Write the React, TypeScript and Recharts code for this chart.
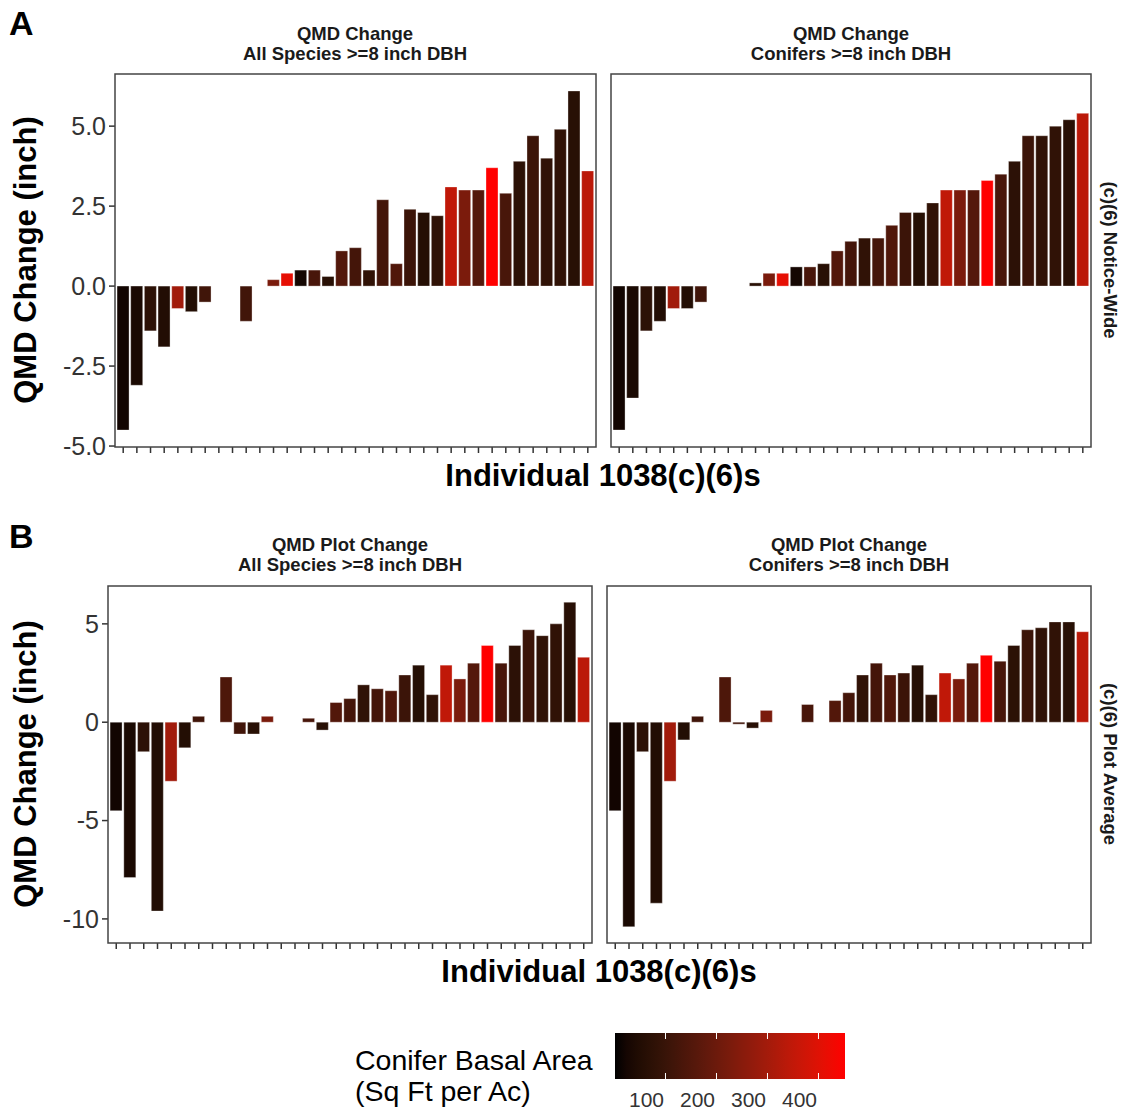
import React from 'react';
import { BarChart, Bar, Cell, XAxis, YAxis } from 'recharts';

// 35 individual 1038(c)(6)s, same order in every panel
const sites = Array.from({ length: 35 }, (_, i) => `S${i + 1}`);

// conifer basal area (sq ft per ac) per site
const basalArea = [
  20, 33, 73, 50, 295, 52, 114, 100, 140, 118, 64, 226, 411, 25, 132, 64, 150, 123,
  82, 123, 146, 104, 57, 82, 349, 228, 154, 452, 132, 73, 104, 82, 82, 64, 340,
];

const qmdAll = [
  -4.5, -3.1, -1.4, -1.9, -0.7, -0.8, -0.5, null, null, -1.1, null, 0.2, 0.4, 0.5, 0.5, 0.3, 1.1, 1.2,
  0.5, 2.7, 0.7, 2.4, 2.3, 2.2, 3.1, 3.0, 3.0, 3.7, 2.9, 3.9, 4.7, 4.0, 4.9, 6.1, 3.6,
];
const qmdConifer = [
  -4.5, -3.5, -1.4, -1.1, -0.7, -0.7, -0.5, null, null, null, 0.1, 0.4, 0.4, 0.6, 0.6, 0.7, 1.1, 1.4,
  1.5, 1.5, 1.9, 2.3, 2.3, 2.6, 3.0, 3.0, 3.0, 3.3, 3.5, 3.9, 4.7, 4.7, 5.0, 5.2, 5.4,
];
const plotAll = [
  -4.5, -7.9, -1.5, -9.6, -3.0, -1.3, 0.3, null, 2.3, -0.6, -0.6, 0.3, null, null, 0.2, -0.4, 1.0, 1.2,
  1.9, 1.7, 1.6, 2.4, 2.9, 1.4, 2.9, 2.2, 3.0, 3.9, 3.0, 3.9, 4.7, 4.4, 5.0, 6.1, 3.3,
];
const plotConifer = [
  -4.5, -10.4, -1.5, -9.2, -3.0, -0.9, 0.3, null, 2.3, -0.1, -0.3, 0.6, null, null, 0.9, null, 1.1, 1.5,
  2.4, 3.0, 2.4, 2.5, 2.9, 1.4, 2.5, 2.2, 3.0, 3.4, 3.1, 3.9, 4.7, 4.8, 5.1, 5.1, 4.6,
];

const ticksA = [-5, -2.5, 0, 2.5, 5];
const ticksB = [-10, -5, 0, 5];
const legendTicks = [100, 200, 300, 400];
const basalMin = 1;
const basalMax = 452;

const FONT = '"Liberation Sans", Arial, sans-serif';

// black -> red gradient interpolated in Lab, like ggplot's scale_fill_gradient
function fillFor(v: number) {
  const t = Math.max(0, Math.min(1, (v - basalMin) / (basalMax - basalMin)));
  const L = 53.2408 * t, a = 80.0925 * t, b = 67.2032 * t;
  const fy = (L + 16) / 116, fx = fy + a / 500, fz = fy - b / 200;
  const inv = (f: number) => (f > 6 / 29 ? f * f * f : 3 * (6 / 29) * (6 / 29) * (f - 4 / 29));
  const X = 0.95047 * inv(fx), Y = inv(fy), Z = 1.08883 * inv(fz);
  const lin = [
    3.2406 * X - 1.5372 * Y - 0.4986 * Z,
    -0.9689 * X + 1.8758 * Y + 0.0415 * Z,
    0.0557 * X - 0.204 * Y + 1.057 * Z,
  ];
  const hex = lin
    .map((c) => {
      const s = c <= 0.0031308 ? 12.92 * c : 1.055 * Math.pow(c, 1 / 2.4) - 0.055;
      const n = Math.round(Math.max(0, Math.min(1, s)) * 255);
      return n.toString(16).padStart(2, '0');
    })
    .join('');
  return `#${hex}`;
}

const panels = [
  { key: 'a1', values: qmdAll, x: 115, y: 74, w: 481, h: 373, domain: [-5.03, 6.63], ticks: ticksA, left: true, fmt: (v: number) => v.toFixed(1) },
  { key: 'a2', values: qmdConifer, x: 611, y: 74, w: 480, h: 373, domain: [-5.03, 6.63], ticks: ticksA, left: false, fmt: (v: number) => v.toFixed(1) },
  { key: 'b1', values: plotAll, x: 108, y: 586, w: 484, h: 357, domain: [-11.225, 6.925], ticks: ticksB, left: true, fmt: (v: number) => String(v) },
  { key: 'b2', values: plotConifer, x: 607, y: 586, w: 484, h: 357, domain: [-11.225, 6.925], ticks: ticksB, left: false, fmt: (v: number) => String(v) },
];

const YW = 80;

// x ticks carry no labels, only the tick marks
const NoLabel = () => <g />;

function Panel({ p }: { p: (typeof panels)[number] }) {
  const data = sites.map((s, i) => ({ site: s, value: p.values[i], basal: basalArea[i] }));
  const pad = (0.1 * p.w) / 35.2;
  const offset = p.left ? YW : 0;
  return (
    <div style={{ position: 'absolute', left: p.x - offset, top: p.y }}>
      <BarChart
        width={p.w + offset}
        height={p.h + 14}
        data={data}
        margin={{ top: 0, right: 0, bottom: 0, left: 0 }}
        barCategoryGap="5%"
      >
        <XAxis
          dataKey="site"
          height={14}
          tick={NoLabel}
          tickSize={6}
          axisLine={false}
          tickLine={{ stroke: '#333', strokeWidth: 1.5 }}
          padding={{ left: pad, right: pad }}
          interval={0}
        />
        <YAxis
          hide={!p.left}
          width={YW}
          type="number"
          domain={p.domain}
          allowDataOverflow
          ticks={p.ticks}
          interval={0}
          tickFormatter={p.fmt}
          tickSize={6}
          tickMargin={3}
          axisLine={false}
          tickLine={{ stroke: '#333', strokeWidth: 1.5 }}
          tick={{ fontSize: 25, fill: '#333', fontFamily: FONT }}
        />
        <Bar dataKey="value" isAnimationActive={false} stroke="rgba(255,255,255,0.55)" strokeWidth={0.6}>
          {data.map((d, i) => (
            <Cell key={`cell-${i}`} fill={fillFor(d.basal)} />
          ))}
        </Bar>
      </BarChart>
    </div>
  );
}

export default function App() {
  const strips = [
    { cx: 355, y: 40, lines: ['QMD Change', 'All Species >=8 inch DBH'] },
    { cx: 851, y: 40, lines: ['QMD Change', 'Conifers >=8 inch DBH'] },
    { cx: 350, y: 551, lines: ['QMD Plot Change', 'All Species >=8 inch DBH'] },
    { cx: 849, y: 551, lines: ['QMD Plot Change', 'Conifers >=8 inch DBH'] },
  ];
  const legX0 = 615, legX1 = 845;
  const legX = (v: number) => legX0 + ((v - basalMin) / (basalMax - basalMin)) * (legX1 - legX0);
  const stops = Array.from({ length: 21 }, (_, i) => i / 20);

  return (
    <div style={{ position: 'absolute', left: 0, top: 0, width: 1124, height: 1112, background: '#fff', fontFamily: FONT }}>
      {panels.map((p) => (
        <Panel key={p.key} p={p} />
      ))}
      <svg width={1124} height={1112} style={{ position: 'absolute', left: 0, top: 0, pointerEvents: 'none' }}>
        <defs>
          <linearGradient id="basalGrad" x1="0" x2="1" y1="0" y2="0">
            {stops.map((s) => (
              <stop key={s} offset={s} stopColor={fillFor(basalMin + s * (basalMax - basalMin))} />
            ))}
          </linearGradient>
        </defs>
        {panels.map((p) => (
          <rect key={p.key} x={p.x} y={p.y} width={p.w} height={p.h} fill="none" stroke="#444" strokeWidth={1.5} />
        ))}
        <text x={9} y={35} fontSize={34} fontWeight="bold" fill="#000">A</text>
        <text x={9} y={548} fontSize={34} fontWeight="bold" fill="#000">B</text>
        {strips.map((s, i) => (
          <text key={i} x={s.cx} y={s.y} textAnchor="middle" fontSize={18.5} fontWeight="bold" fill="#1a1a1a">
            <tspan x={s.cx} dy={0}>{s.lines[0]}</tspan>
            <tspan x={s.cx} dy={19.5}>{s.lines[1]}</tspan>
          </text>
        ))}
        <text transform="translate(1110,260) rotate(90)" textAnchor="middle" dy="0.35em" fontSize={18.5} fontWeight="bold" fill="#1a1a1a">
          (c)(6) Notice-Wide
        </text>
        <text transform="translate(1110,764) rotate(90)" textAnchor="middle" dy="0.35em" fontSize={18.5} fontWeight="bold" fill="#1a1a1a">
          (c)(6) Plot Average
        </text>
        <text transform="translate(25,260) rotate(-90)" textAnchor="middle" dy="0.35em" fontSize={31} fontWeight="bold" fill="#000">
          QMD Change (inch)
        </text>
        <text transform="translate(25,764) rotate(-90)" textAnchor="middle" dy="0.35em" fontSize={31} fontWeight="bold" fill="#000">
          QMD Change (inch)
        </text>
        <text x={603} y={486} textAnchor="middle" fontSize={31} fontWeight="bold" fill="#000">Individual 1038(c)(6)s</text>
        <text x={599} y={982} textAnchor="middle" fontSize={31} fontWeight="bold" fill="#000">Individual 1038(c)(6)s</text>

        <text x={355} y={1070} fontSize={28.5} fill="#000">Conifer Basal Area</text>
        <text x={355} y={1101} fontSize={28.5} fill="#000">(Sq Ft per Ac)</text>
        <rect x={legX0} y={1033} width={legX1 - legX0} height={46} fill="url(#basalGrad)" />
        {legendTicks.map((t) => (
          <g key={t}>
            <line x1={legX(t)} x2={legX(t)} y1={1033} y2={1039} stroke="#fff" strokeWidth={1} />
            <line x1={legX(t)} x2={legX(t)} y1={1073} y2={1079} stroke="#fff" strokeWidth={1} />
            <text x={legX(t) - 19} y={1107} textAnchor="middle" fontSize={21} fill="#333">{t}</text>
          </g>
        ))}
      </svg>
    </div>
  );
}
